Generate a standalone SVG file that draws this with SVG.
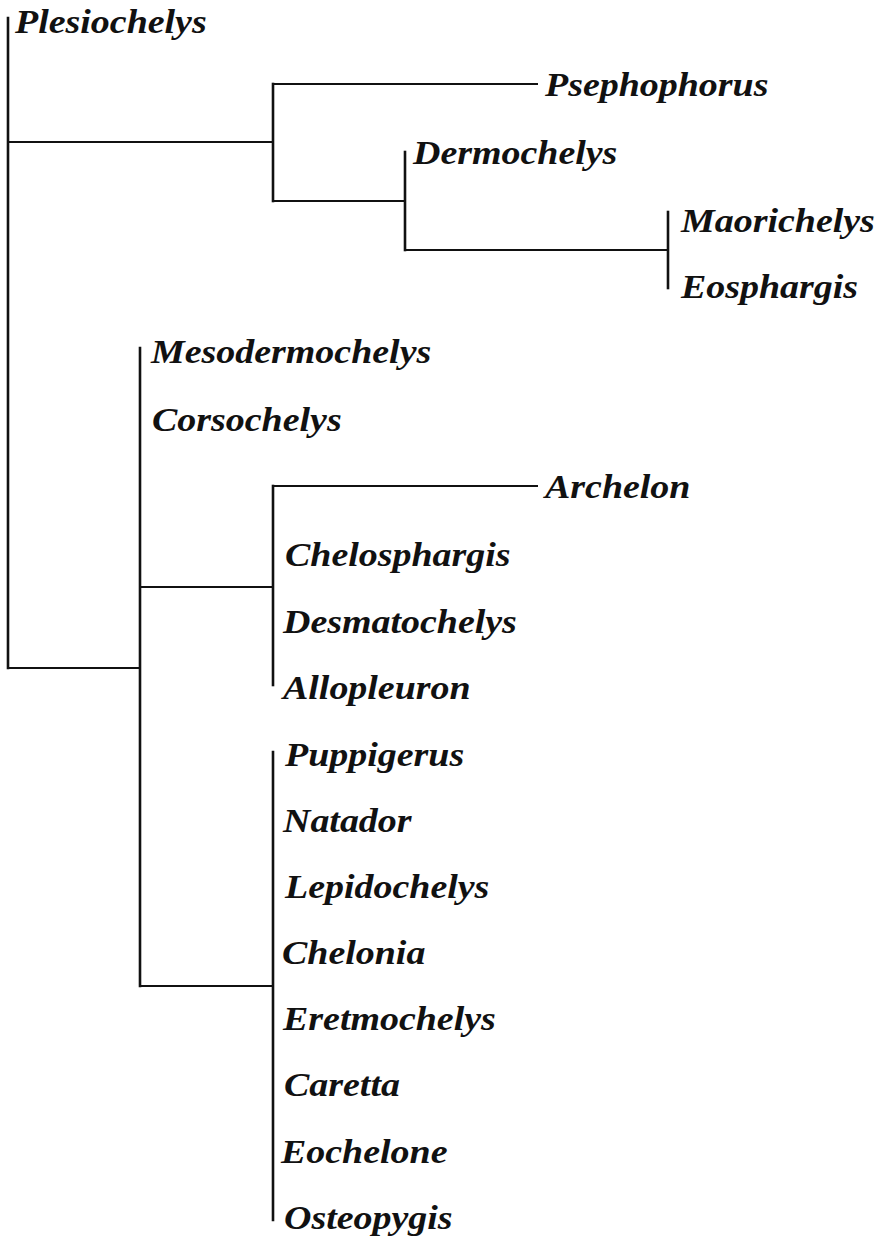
<svg xmlns="http://www.w3.org/2000/svg" width="880" height="1240" viewBox="0 0 880 1240">
<style>
.t{font-family:"Liberation Serif","Times New Roman",serif;font-weight:bold;font-style:italic;font-size:34.5px;fill:#111}
.e{stroke:#111;stroke-width:2;fill:none;stroke-linecap:square}
.v{stroke-width:2.6}
</style>
<rect width="880" height="1240" fill="#fff"/>
<g id="connectors" class="e">
<path class="v" d="M8,18V668"/>
<path d="M8,142H273"/>
<path class="v" d="M273,84V201"/>
<path d="M273,84H537"/>
<path d="M273,201H405"/>
<path class="v" d="M405,152V250"/>
<path d="M405,250H668"/>
<path class="v" d="M668,212V288"/>
<path d="M8,668H140"/>
<path class="v" d="M140,348V986"/>
<path d="M140,587H273"/>
<path class="v" d="M273,486V685"/>
<path d="M273,486H537"/>
<path d="M140,986H273"/>
<path class="v" d="M273,752V1220"/>
</g>
<g id="n-plesiochelys"><text class="t" transform="translate(15,33) scale(1.1,1)">Plesiochelys</text></g>
<g id="n-psephophorus"><text class="t" transform="translate(545,96) scale(1.1,1)">Psephophorus</text></g>
<g id="n-dermochelys"><text class="t" transform="translate(413,164) scale(1.1,1)">Dermochelys</text></g>
<g id="n-maorichelys"><text class="t" transform="translate(681,232) scale(1.1,1)">Maorichelys</text></g>
<g id="n-eosphargis"><text class="t" transform="translate(681,298) scale(1.1,1)">Eosphargis</text></g>
<g id="n-mesodermochelys"><text class="t" transform="translate(151,363) scale(1.1,1)">Mesodermochelys</text></g>
<g id="n-corsochelys"><text class="t" transform="translate(152,431) scale(1.1,1)">Corsochelys</text></g>
<g id="n-archelon"><text class="t" transform="translate(545,498) scale(1.1,1)">Archelon</text></g>
<g id="n-chelosphargis"><text class="t" transform="translate(285,566) scale(1.1,1)">Chelosphargis</text></g>
<g id="n-desmatochelys"><text class="t" transform="translate(283,633) scale(1.1,1)">Desmatochelys</text></g>
<g id="n-allopleuron"><text class="t" transform="translate(283,699) scale(1.1,1)">Allopleuron</text></g>
<g id="n-puppigerus"><text class="t" transform="translate(285,766) scale(1.1,1)">Puppigerus</text></g>
<g id="n-natador"><text class="t" transform="translate(283,832) scale(1.1,1)">Natador</text></g>
<g id="n-lepidochelys"><text class="t" transform="translate(285,898) scale(1.1,1)">Lepidochelys</text></g>
<g id="n-chelonia"><text class="t" transform="translate(282,964) scale(1.1,1)">Chelonia</text></g>
<g id="n-eretmochelys"><text class="t" transform="translate(283,1030) scale(1.1,1)">Eretmochelys</text></g>
<g id="n-caretta"><text class="t" transform="translate(284,1096) scale(1.1,1)">Caretta</text></g>
<g id="n-eochelone"><text class="t" transform="translate(281,1163) scale(1.1,1)">Eochelone</text></g>
<g id="n-osteopygis"><text class="t" transform="translate(284,1229) scale(1.1,1)">Osteopygis</text></g>
</svg>
